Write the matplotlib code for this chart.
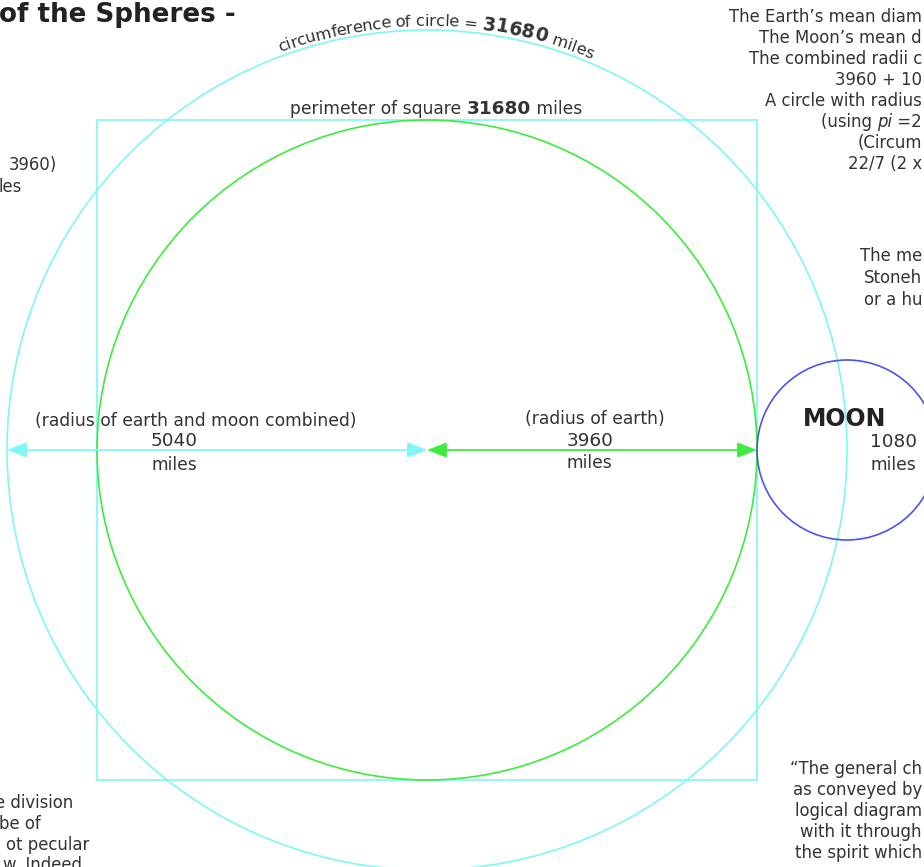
import numpy as np
import matplotlib.pyplot as plt
from matplotlib.patches import Circle, Rectangle
from matplotlib.transforms import Affine2D
from matplotlib.font_manager import FontProperties

# --- data (miles) ---
earth_radius = 3960
moon_radius = 1080
combined_radius = earth_radius + moon_radius   # 5040
square_perimeter = 8 * earth_radius            # 31680
circle_circumference = 31680

radius_labels = ["(radius of earth and moon combined)", "(radius of earth)"]
radius_values = [combined_radius, earth_radius, moon_radius]

# visible parts of the notes (the picture is cropped at its edges)
notes_top = [
    "The Earth\u2019s mean diam",
    "The Moon\u2019s mean d",
    "The combined radii c",
    "3960 + 10",
    "A circle with radius",
    None,  # pi line, drawn as rich text
    "(Circum",
    "22/7 (2 x",
]
notes_mid = ["The me", "Stoneh", "or a hu"]
notes_left = ["3960)", "les"]
notes_bottom_left = ["e division", "be of", "ot pecular", "w. Indeed"]
notes_bottom_right = ["\u201cThe general ch",
                      "as conveyed by",
                      "logical diagram",
                      "with it through",
                      "the spirit which"]

# --- style ---
W, H = 924, 867
CX, CY = 427, 450          # pixel position of earth centre
MILES_PER_PX = 12
CYAN, GREEN, BLUE = "#7ff7f7", "#3ded3d", "#4a55ee"
INK = "#333333"
FS = 12.3
FS_NOTE = 11.9

fig = plt.figure(figsize=(W / 100, H / 100), dpi=100)
ax = fig.add_axes([0, 0, 1, 1])
ax.set_xlim(-CX * MILES_PER_PX, (W - CX) * MILES_PER_PX)
ax.set_ylim(-(H - CY) * MILES_PER_PX, CY * MILES_PER_PX)
ax.axis("off")

PX = Affine2D().scale(1, -1).translate(0, H)  # image pixel coords, y down
renderer = fig.canvas.get_renderer()


def text_width(s, prop):
    w_ab, _, _ = renderer.get_text_width_height_descent("x" + s + "x", prop, ismath=False)
    w_a, _, _ = renderer.get_text_width_height_descent("xx", prop, ismath=False)
    return w_ab - w_a


def rich(x, y, parts, ha="center"):
    props = [FontProperties(family="DejaVu Sans", size=sz, weight=wt, style=st)
             for _, sz, wt, st in parts]
    widths = [text_width(p[0], fp) for p, fp in zip(parts, props)]
    total = sum(widths)
    if ha == "center":
        x0 = x - total / 2
    elif ha == "right":
        x0 = x - total
    else:
        x0 = x
    for (s, *_), fp, w in zip(parts, props, widths):
        ax.text(x0, y, s, fontproperties=fp, color=INK, va="center", ha="left", transform=PX)
        x0 += w


# --- shapes ---
ax.add_patch(Circle((0, 0), combined_radius, fill=False, ec=CYAN, lw=1.2))
ax.add_patch(Rectangle((-earth_radius, -earth_radius), 2 * earth_radius, 2 * earth_radius,
                       fill=False, ec=CYAN, lw=1.2))
ax.add_patch(Circle((0, 0), earth_radius, fill=False, ec=GREEN, lw=1.2))
moon_x = earth_radius + moon_radius
ax.add_patch(Circle((moon_x, 0), moon_radius, fill=False, ec=BLUE, lw=1.2))


def arrow(x0, x1, color):
    ax.annotate("", xy=(x1, 0), xytext=(x0, 0),
                arrowprops=dict(arrowstyle="<|-|>,head_length=0.7,head_width=0.27",
                                color=color, lw=1.3,
                                shrinkA=0, shrinkB=0, mutation_scale=17))


arrow(-combined_radius, 0, CYAN)
arrow(0, earth_radius, GREEN)
arrow(moon_x, moon_x + moon_radius, BLUE)

# --- curved circumference label ---
arc_parts = [("circumference of circle = ", 11.8, "normal"),
             (f"{circle_circumference}", 13.5, "bold"),
             (" miles", 11.8, "normal")]
chars = []
for s, sz, wt in arc_parts:
    fp = FontProperties(family="DejaVu Sans", size=sz, weight=wt)
    for c in s:
        chars.append((c, fp, text_width(c, fp)))
R_px = 424
total = sum(w for _, _, w in chars)
theta = np.deg2rad(1.2) - total / 2 / R_px
for c, fp, w in chars:
    t = theta + w / 2 / R_px
    ax.text(R_px * MILES_PER_PX * np.sin(t), R_px * MILES_PER_PX * np.cos(t), c,
            fontproperties=fp, color=INK, ha="center", va="baseline",
            rotation=-np.rad2deg(t), rotation_mode="anchor")
    theta += w / R_px

# --- title (cropped at the left in the picture) ---
ax.text(236, 15, "of the Spheres -", fontsize=18.8, fontweight="bold",
        color="#222222", ha="right", va="center", transform=PX)

# --- square perimeter label ---
rich(436, 109, [("perimeter of square ", FS, "normal", "normal"),
                (f"{square_perimeter}", FS + 1, "bold", "normal"),
                (" miles", FS, "normal", "normal")])

# --- radius labels ---
ax.text(196, 421, radius_labels[0], fontsize=FS, color=INK, ha="center", va="center", transform=PX)
ax.text(174, 441, f"{radius_values[0]}", fontsize=FS + 1, color=INK, ha="center", va="center", transform=PX)
ax.text(174, 465, "miles", fontsize=FS, color=INK, ha="center", va="center", transform=PX)
ax.text(595, 419, radius_labels[1], fontsize=FS, color=INK, ha="center", va="center", transform=PX)
ax.text(590, 441, f"{radius_values[1]}", fontsize=FS + 1, color=INK, ha="center", va="center", transform=PX)
ax.text(589, 463, "miles", fontsize=FS, color=INK, ha="center", va="center", transform=PX)
ax.text(845, 419, "MOON", fontsize=17, fontweight="bold", color="#222222",
        ha="center", va="center", transform=PX)
ax.text(893, 442, f"{radius_values[2]}", fontsize=FS + 1, color=INK, ha="center", va="center", transform=PX)
ax.text(893, 465, "miles", fontsize=FS, color=INK, ha="center", va="center", transform=PX)

# --- side notes ---
for i, s in enumerate(notes_top):
    y = 17 + 21 * i
    if s is None:
        rich(922, y, [("(using ", FS_NOTE, "normal", "normal"), ("pi", FS_NOTE, "normal", "italic"),
                      (" =2", FS_NOTE, "normal", "normal")], ha="right")
    else:
        ax.text(922, y, s, fontsize=FS_NOTE, color=INK, ha="right", va="center", transform=PX)

for i, s in enumerate(notes_mid):
    ax.text(922, 256 + 22 * i, s, fontsize=FS_NOTE, color=INK, ha="right", va="center", transform=PX)

for s, x, y in zip(notes_left, [57, 22], [165, 187]):
    ax.text(x, y, s, fontsize=FS_NOTE, color=INK, ha="right", va="center", transform=PX)

for s, x, y in zip(notes_bottom_left, [73, 41, 89, 82], [803, 824, 845, 865]):
    ax.text(x, y, s, fontsize=FS_NOTE, color=INK, ha="right", va="center", transform=PX)

for s, y in zip(notes_bottom_right, [769, 790, 811, 832, 853]):
    ax.text(922, y, s, fontsize=FS_NOTE, color=INK, ha="right", va="center", transform=PX)

fig.savefig("out.png", dpi=100)
